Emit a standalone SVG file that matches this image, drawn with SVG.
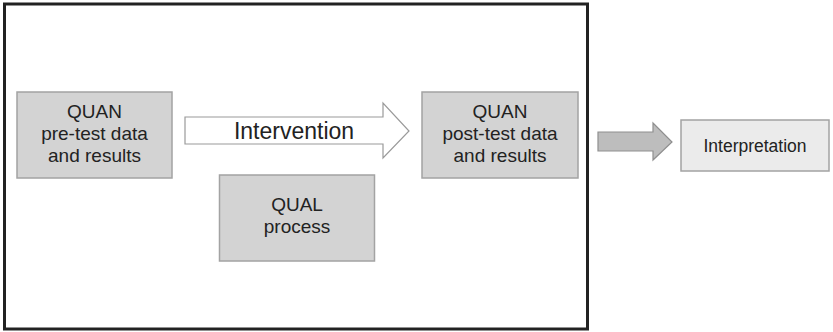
<svg xmlns="http://www.w3.org/2000/svg" width="833" height="332" viewBox="0 0 833 332">
  <style>
    .box { fill: #d3d3d3; stroke: #a3a3a3; stroke-width: 1.5; }
    .light { fill: #ebebeb; stroke: #a3a3a3; stroke-width: 1.5; }
    .label { font-family: "Liberation Sans", Arial, sans-serif; font-size: 19px; fill: #222; text-anchor: middle; }
    .big { font-size: 23px; }
    .mid { font-size: 17.5px; }
  </style>
  <rect width="833" height="332" fill="#ffffff"/>

  <!-- study frame -->
  <rect id="frame" x="4.5" y="4" width="583" height="325" fill="none" stroke="#222" stroke-width="3"/>

  <g id="connectors">
    <!-- intervention arrow -->
    <g id="intervention">
      <polygon points="185,117 383,117 383,103 409,131 383,158 383,144 185,144" fill="#ffffff" stroke="#9a9a9a" stroke-width="1.2"/>
      <text class="label big" x="294" y="139">Intervention</text>
    </g>
    <!-- arrow to interpretation -->
    <polygon points="598,132 653,132 653,123 672,142 653,160 653,151 598,151" fill="#bdbdbd" stroke="#8f8f8f" stroke-width="1.2"/>
  </g>

  <g id="quan-pre">
    <rect class="box" x="17" y="92" width="155" height="86"/>
    <text class="label" x="94.5" y="118">QUAN</text>
    <text class="label" x="94.5" y="140">pre-test data</text>
    <text class="label" x="94.5" y="162">and results</text>
  </g>

  <g id="quan-post">
    <rect class="box" x="422" y="92" width="156" height="86"/>
    <text class="label" x="500" y="118">QUAN</text>
    <text class="label" x="500" y="140">post-test data</text>
    <text class="label" x="500" y="162">and results</text>
  </g>

  <g id="qual">
    <rect class="box" x="219.5" y="175" width="155" height="86"/>
    <text class="label" x="297" y="211">QUAL</text>
    <text class="label" x="297" y="233">process</text>
  </g>

  <g id="interpretation">
    <rect class="light" x="681" y="120" width="148" height="51"/>
    <text class="label mid" x="755" y="152">Interpretation</text>
  </g>
</svg>
